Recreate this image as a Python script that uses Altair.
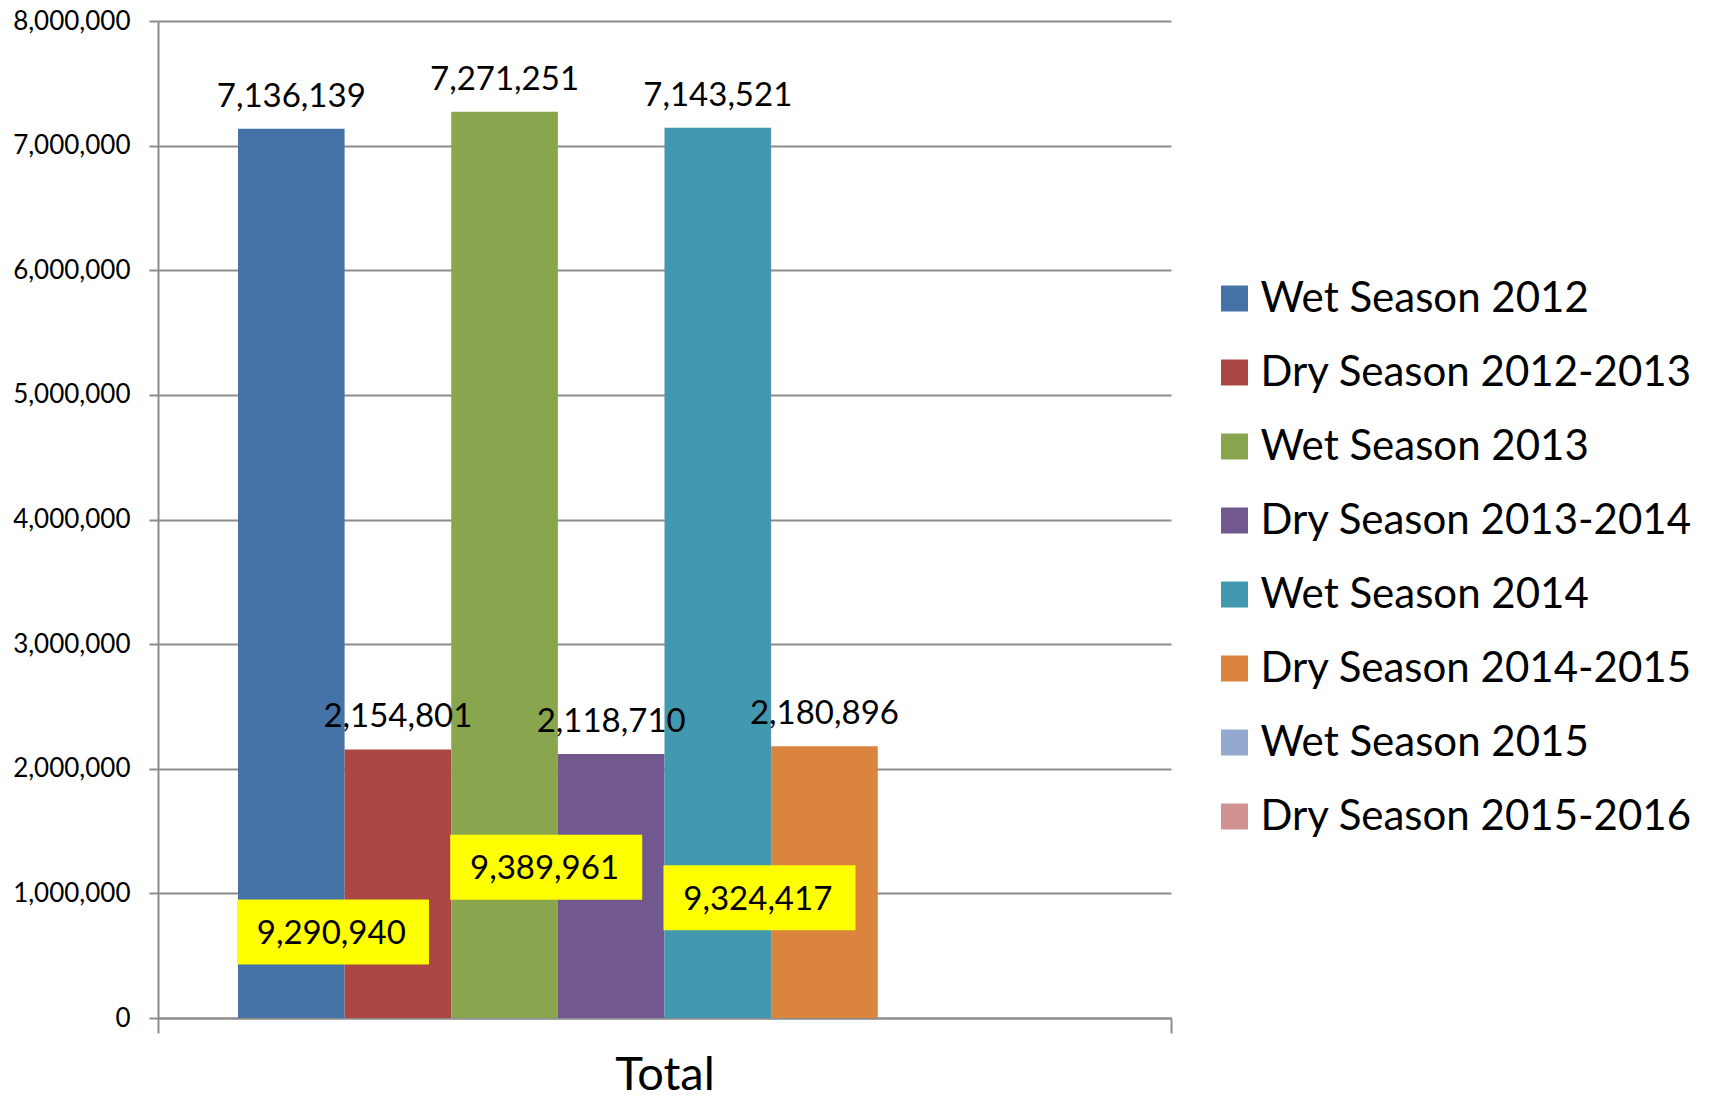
import altair as alt
import pandas as pd

series_names = [
    "Wet Season 2012", "Dry Season 2012-2013", "Wet Season 2013", "Dry Season 2013-2014",
    "Wet Season 2014", "Dry Season 2014-2015", "Wet Season 2015", "Dry Season 2015-2016",
]
series_colors = ["#4572A7", "#AA4643", "#89A54E", "#71588F", "#4198AF", "#DB843D", "#93A9CF", "#D19392"]

bar_series = ["Wet Season 2012", "Dry Season 2012-2013", "Wet Season 2013",
              "Dry Season 2013-2014", "Wet Season 2014", "Dry Season 2014-2015"]
bar_values = [7136139, 2154801, 7271251, 2118710, 7143521, 2180896]

total_anchor_series = ["Wet Season 2012", "Wet Season 2013", "Wet Season 2014"]
total_values = [9290940, 9389961, 9324417]
total_label_y = [690000, 1210000, 965000]

category = "Total"
y_ticks = [0, 1000000, 2000000, 3000000, 4000000, 5000000, 6000000, 7000000, 8000000]

FONT = "Lato"
GRAY = "#8c8c8c"

bars_df = pd.DataFrame({"category": category, "series": bar_series, "value": bar_values})
tot_df = pd.DataFrame({"category": category, "series": total_anchor_series,
                       "total": total_values, "ly": total_label_y})

x_enc = alt.X("category:N", scale=alt.Scale(paddingInner=0, paddingOuter=0),
              axis=alt.Axis(title=None, tickBand="extent", tickSize=15, tickColor=GRAY, tickWidth=2,
                            domainColor=GRAY, domainWidth=2, labelFontSize=47, labelFont=FONT,
                            labelColor="black", labelPadding=19, labelAngle=0, grid=False))
xoff_enc = alt.XOffset("series:N", scale=alt.Scale(domain=series_names, paddingInner=0, paddingOuter=0.75))
y_scale = alt.Scale(domain=[0, 8000000], nice=False)
y_enc = alt.Y("value:Q", scale=y_scale,
              axis=alt.Axis(title=None, values=y_ticks, format=",.0f", tickSize=9, tickColor=GRAY,
                            tickWidth=2, domainColor=GRAY, domainWidth=2, gridColor=GRAY,
                            gridWidth=2, labelFontSize=26, labelFont=FONT, labelColor="black",
                            labelPadding=19))

color_enc = alt.Color("series:N",
                      scale=alt.Scale(domain=series_names, range=series_colors),
                      legend=alt.Legend(title=None, orient="none", legendX=1055.5, legendY=256.5,
                                        labelFontSize=42, labelFont=FONT, labelColor="black",
                                        labelLimit=0, labelOffset=5,
                                        symbolType="M-1,-0.963L1,-0.963L1,0.963L-1,0.963Z",
                                        symbolSize=729, symbolStrokeWidth=0, symbolOpacity=1,
                                        rowPadding=32))

bars = alt.Chart(bars_df).mark_bar(opacity=1).encode(
    x=x_enc, xOffset=xoff_enc, y=y_enc, color=color_enc
)

bar_labels = alt.Chart(bars_df).mark_text(
    font=FONT, fontSize=33, color="black", baseline="alphabetic", dy=-22
).encode(
    x="category:N", xOffset="series:N", y=alt.Y("value:Q", scale=y_scale),
    text=alt.Text("value:Q", format=",")
)

boxes = alt.Chart(tot_df).mark_point(
    shape="M-0.566,-0.339L1.434,-0.339L1.434,0.339L-0.566,0.339Z",
    size=36864, filled=True, color="#FFFF00", opacity=1, strokeWidth=0
).encode(
    x="category:N", xOffset="series:N", y=alt.Y("ly:Q", scale=y_scale)
)

box_labels = alt.Chart(tot_df).mark_text(
    font=FONT, fontSize=33, color="black", baseline="middle", dx=40, dy=2
).encode(
    x="category:N", xOffset="series:N", y=alt.Y("ly:Q", scale=y_scale),
    text=alt.Text("total:Q", format=",")
)

chart = alt.layer(bars, bar_labels, boxes, box_labels).properties(
    width=1013, height=997,
    autosize=alt.AutoSizeParams(type="none"),
    padding={"left": 150, "top": 13, "right": 530, "bottom": 72},
    background="white",
).configure_view(strokeWidth=0, stroke="transparent")

chart.save("out.html", embed_options={"renderer": "svg", "actions": False})
